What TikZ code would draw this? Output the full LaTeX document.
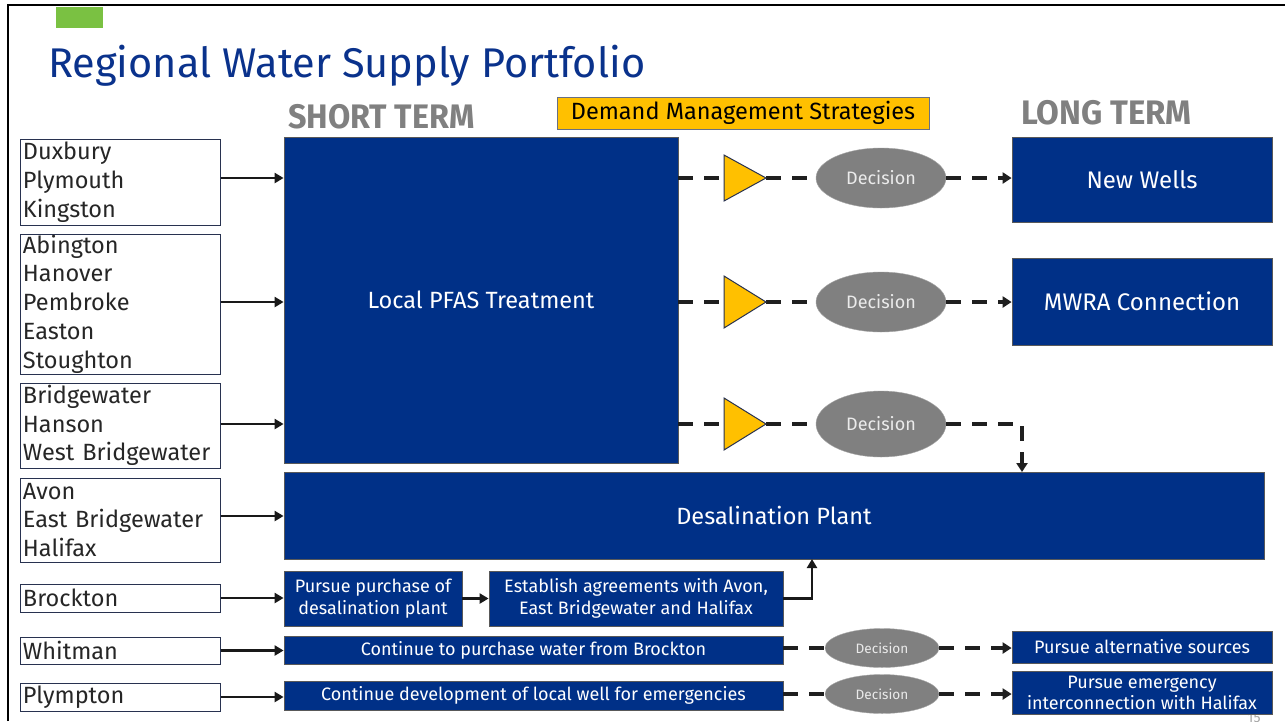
\documentclass[tikz,border=0pt]{standalone}
\usepackage{fontspec}
\setmainfont{Fira Sans}
\usetikzlibrary{shapes.geometric,arrows.meta}
\definecolor{navy}{RGB}{0,48,135}
\definecolor{titleblue}{RGB}{10,50,140}
\definecolor{amber}{RGB}{255,192,0}
\definecolor{elgray}{RGB}{128,128,128}
\definecolor{leaf}{RGB}{122,193,66}
\definecolor{edge}{RGB}{40,50,80}
\definecolor{labgray}{RGB}{128,128,128}
\begin{document}
\begin{tikzpicture}[x=1pt,y=-1pt,
  town/.style={draw=edge, line width=1pt, fill=white, text=black!85, text width=194pt, align=left, inner xsep=3pt, inner ysep=0pt, minimum width=200pt, font=\fontsize{23.5}{28.8}\selectfont},
  bluebox/.style={draw=black!65, line width=0.8pt, fill=navy, text=white, align=center, inner sep=2pt},
  dec/.style={ellipse, draw=elgray!70, fill=elgray, text=black!8, inner sep=0pt},
  tri/.style={draw=edge, line width=1pt, fill=amber},
  arr/.style={line width=2.6pt, draw=black!90, -{Triangle[length=9pt,width=10pt]}},
  dline/.style={line width=3.6pt, draw=black!88, dash pattern=on 15pt off 11pt},
  darr/.style={dline, -{Triangle[length=9pt,width=11pt]}}
]
\useasboundingbox (0,0) rectangle (1285,721);
\clip (0,0) rectangle (1285,721);
\fill[white] (0,0) rectangle (1285,721);
% frame and decoration
\fill[leaf] (56,7) rectangle (103,28);
\draw[line width=2.6pt, black] (8,721) -- (8,5) -- (1285,5);
\node[anchor=base west, text=titleblue, font=\fontsize{41.5}{44}\selectfont, inner sep=0pt] (title) at (48,77) {Regional Water Supply Portfolio};
\node[anchor=base west, text=labgray, font=\fontsize{34}{36}\bfseries, inner sep=0pt] (short) at (288,128) {\scalebox{0.95}[1]{SHORT TERM}};
\node[anchor=base west, text=labgray, font=\fontsize{34}{36}\bfseries, inner sep=0pt] (long) at (1021,124) {\scalebox{0.97}[1]{LONG TERM}};
\node[draw=edge!70, line width=0.8pt, fill=amber, text=black, minimum width=372pt, minimum height=32pt, inner sep=0pt, font=\fontsize{23.5}{26}\selectfont] (dms) at (743,113) {Demand Management Strategies};
% page number (mostly hidden)
\node[anchor=north, text=gray!70, font=\fontsize{14}{16}\selectfont, inner sep=0pt] (pg) at (1254,713) {15};
% towns
\node[town, minimum height=86pt] (t1) at (120,182) {Duxbury\\Plymouth\\Kingston};
\node[town, minimum height=140pt] (t2) at (120,304) {Abington\\Hanover\\Pembroke\\Easton\\Stoughton};
\node[town, minimum height=85pt] (t3) at (120,425.5) {Bridgewater\\Hanson\\West Bridgewater};
\node[town, minimum height=84pt] (t4) at (120,520) {Avon\\East Bridgewater\\Halifax};
\node[town, minimum height=28pt] (t5) at (120,598) {Brockton};
\node[town, minimum height=27pt] (t6) at (120,650.5) {Whitman};
\node[town, minimum height=28pt] (t7) at (120,697) {Plympton};
% blue boxes
\node[bluebox, minimum width=394pt, minimum height=326pt, font=\fontsize{23.5}{26}\selectfont] (pfas) at (481,300) {Local PFAS Treatment};
\node[bluebox, minimum width=980pt, minimum height=87pt, font=\fontsize{23.5}{26}\selectfont] (desal) at (774,515.5) {Desalination Plant};
\node[bluebox, minimum width=260pt, minimum height=85pt, font=\fontsize{24}{26}\selectfont] (wells) at (1142,179.5) {New Wells};
\node[bluebox, minimum width=260pt, minimum height=87pt, font=\fontsize{24}{26}\selectfont] (mwra) at (1142,301.5) {MWRA Connection};
\node[bluebox, minimum width=178pt, minimum height=55pt, font=\fontsize{18}{22}\selectfont] (buy) at (373,598.5) {Pursue purchase of\\desalination plant};
\node[bluebox, minimum width=294pt, minimum height=55pt, font=\fontsize{18}{22}\selectfont] (agree) at (636,598.5) {Establish agreements with Avon,\\East Bridgewater and Halifax};
\node[bluebox, minimum width=499pt, minimum height=28pt, font=\fontsize{18}{20}\selectfont] (whit) at (533.5,650) {Continue to purchase water from Brockton};
\node[bluebox, minimum width=499pt, minimum height=29pt, font=\fontsize{18}{20}\selectfont] (plym) at (533.5,695.5) {Continue development of local well for emergencies};
\node[bluebox, minimum width=260pt, minimum height=32pt, font=\fontsize{18}{20}\selectfont] (alt) at (1142,647) {Pursue alternative sources};
\node[bluebox, minimum width=260pt, minimum height=43pt, font=\fontsize{18}{21}\selectfont] (emerg) at (1142,692.5) {Pursue emergency\\interconnection with Halifax};
% decisions
\node[dec, minimum width=130pt, minimum height=60pt, font=\fontsize{18}{20}\selectfont] (d1) at (881,178) {Decision};
\node[dec, minimum width=130pt, minimum height=60pt, font=\fontsize{18}{20}\selectfont] (d2) at (881,302) {Decision};
\node[dec, minimum width=130pt, minimum height=66pt, font=\fontsize{18}{20}\selectfont] (d3) at (881,424) {Decision};
\node[dec, minimum width=114pt, minimum height=39pt, font=\fontsize{13.6}{15}\selectfont] (d4) at (882,648) {Decision};
\node[dec, minimum width=114pt, minimum height=39pt, font=\fontsize{13.6}{15}\selectfont] (d5) at (882,694) {Decision};
% triangles
\coordinate (a1w) at (724,178); \coordinate (a1e) at (766,178);
\coordinate (a2w) at (724,302); \coordinate (a2e) at (766,302);
\coordinate (a3w) at (724,424); \coordinate (a3e) at (766,424);
\coordinate (r3) at (1022,472);
\coordinate (dsup) at (812,559);
% dashed connectors
\draw[dline] (pfas.east |- a1w) -- (a1w);
\draw[dline] (a1e) -- (d1.west);
\draw[darr] (d1.east) -- (wells.west |- d1.east);
\draw[dline] (pfas.east |- a2w) -- (a2w);
\draw[dline] (a2e) -- (d2.west);
\draw[darr] (d2.east) -- (mwra.west |- d2.east);
\draw[dline] (pfas.east |- a3w) -- (a3w);
\draw[dline] (a3e) -- (d3.west);
\draw[darr] (d3.east) -| (r3);
\draw[dline] (whit.east |- d4.west) -- (d4.west);
\draw[darr] (d4.east) -- (alt.west |- d4.east);
\draw[dline] (plym.east |- d5.west) -- (d5.west);
\draw[darr] (d5.east) -- (emerg.west |- d5.east);
\filldraw[tri] (724,155) -- (a1e) -- (724,201) -- cycle;
\filldraw[tri] (724,276) -- (a2e) -- (724,328) -- cycle;
\filldraw[tri] (724,398) -- (a3e) -- (724,450) -- cycle;
% solid connectors
\draw[arr] (t1.east |- a1w) -- (pfas.west |- a1w);
\draw[arr] (t2.east |- a2w) -- (pfas.west |- a2w);
\draw[arr] (t3.east |- a3w) -- (pfas.west |- a3w);
\draw[arr] (t4.east |- 0,516) -- (desal.west |- 0,516);
\draw[arr] (t5.east) -- (buy.west |- t5.east);
\draw[arr] (t6.east) -- (whit.west |- t6.east);
\draw[arr] (t7.east) -- (plym.west |- t7.east);
\draw[arr] (buy.east) -- (agree.west);
\draw[arr] (agree.east) -| (dsup);
\end{tikzpicture}
\end{document}
